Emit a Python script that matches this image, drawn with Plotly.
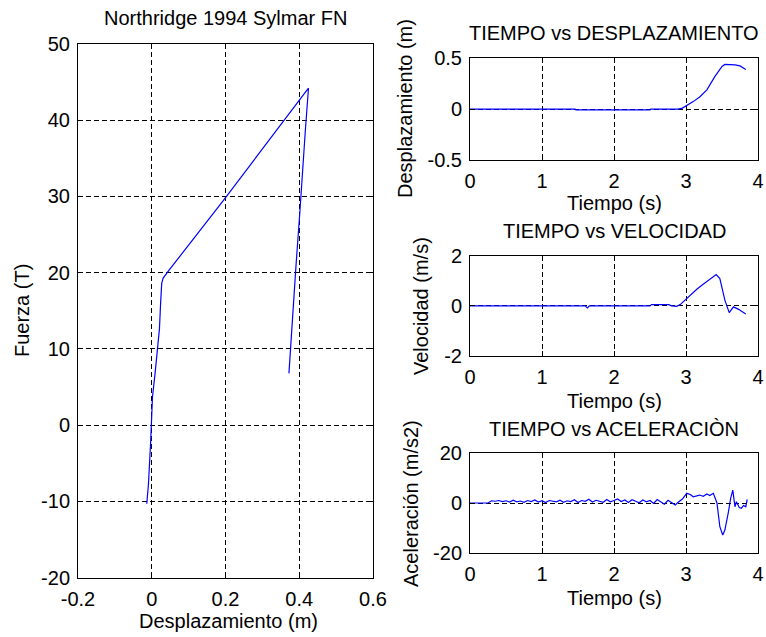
import plotly.graph_objects as go

# ---------------- data ----------------
# Hysteresis loop (left panel)
disp_h = [-0.0135, -0.009, -0.003, 0.002, 0.009, 0.015, 0.021, 0.024, 0.027, 0.031,
          0.048, 0.196, 0.425, 0.416, 0.409, 0.402, 0.391, 0.382, 0.376, 0.372]
force_h = [-10.3, -7.8, -2.2, 3.7, 6.8, 9.9, 12.7, 16.0, 18.6, 19.3,
           20.4, 29.6, 44.2, 38.3, 32.6, 28.2, 20.8, 14.7, 10.3, 6.8]

# Time vs displacement
t_d = [0, 1.46, 1.47, 2.50, 2.51, 2.89, 2.95, 3.01, 3.10, 3.19, 3.29, 3.40, 3.45,
       3.50, 3.54, 3.61, 3.68, 3.75, 3.83]
d = [0, 0, -0.008, -0.008, 0, 0, 0.01, 0.035, 0.074, 0.12, 0.19, 0.32, 0.37,
     0.42, 0.44, 0.44, 0.435, 0.425, 0.39]

# Time vs velocity
t_v = [0, 1.60, 1.63, 1.66, 2.50, 2.52, 2.76, 2.80, 2.87, 2.92, 2.96, 3.06, 3.15,
       3.22, 3.29, 3.42, 3.47, 3.54, 3.60, 3.66, 3.73, 3.83]
v = [0, 0, -0.08, 0, 0, 0.05, 0.05, 0, -0.02, 0.05, 0.16, 0.43, 0.66,
     0.82, 0.96, 1.25, 1.09, 0.23, -0.27, -0.04, -0.14, -0.33]

# Time vs acceleration
t_a = [0, 0.25, 0.30, 0.35, 0.40, 0.45, 0.50, 0.55, 0.60, 0.65, 0.70, 0.75, 0.80,
       0.85, 0.90, 0.95, 1.00, 1.05, 1.10, 1.15, 1.20, 1.25, 1.30, 1.35, 1.40,
       1.45, 1.50, 1.55, 1.60, 1.65, 1.70, 1.75, 1.80, 1.85, 1.90, 1.95, 2.00,
       2.05, 2.10, 2.15, 2.20, 2.25, 2.30, 2.35, 2.40, 2.45, 2.50, 2.55, 2.60,
       2.65, 2.70, 2.75, 2.80, 2.85, 2.90, 2.95, 3.01, 3.06, 3.10, 3.15, 3.19,
       3.24, 3.29, 3.33, 3.38, 3.43, 3.47, 3.51, 3.54, 3.59, 3.62, 3.65, 3.68,
       3.70, 3.74, 3.77, 3.80, 3.83, 3.85]
a = [0, 0, 0.9, 0.7, 1.0, 0.6, 0.9, 0.4, 1.1, 0.5, 0.8, 0.3, 1.0,
     0.6, 1.2, 0.4, 0.9, 0.2, 1.0, 0.7, 0.5, 1.1, 0.3, 0.9, 0.6,
     1.3, 0.2, 1.0, 0.7, 1.5, 0.4, 1.1, 0.8, 0.3, 1.4, 0.5, 1.0,
     1.6, 0.6, 1.2, 0.2, 1.3, 0.7, 0.1, 1.2, 0.5, 1.0, -0.2, 1.4,
     0.6, -0.5, 1.1, 0.3, -0.8, 0.5, 1.6, 3.9, 3.4, 2.5, 2.9, 3.2,
     2.7, 3.6, 3.0, 3.9, 0.0, -9.5, -12.9, -10.9, -3.5, 1.9, 5.2, -1.5,
     0.5, -1.8, -2.1, -1.0, -1.5, 1.5]

# Tick labels
x1_ticks = [-0.2, 0, 0.2, 0.4, 0.6]
x1_text = ["-0.2", "0", "0.2", "0.4", "0.6"]
y1_ticks = [-20, -10, 0, 10, 20, 30, 40, 50]
y1_text = ["-20", "-10", "0", "10", "20", "30", "40", "50"]
t_ticks = [0, 1, 2, 3, 4]
t_text = ["0", "1", "2", "3", "4"]
yd_ticks = [-0.5, 0, 0.5]
yd_text = ["-0.5", "0", "0.5"]
yv_ticks = [-2, 0, 2]
yv_text = ["-2", "0", "2"]
ya_ticks = [-20, 0, 20]
ya_text = ["-20", "0", "20"]

# ---------------- figure ----------------
W, H = 766, 637
FONT = "Liberation Sans, Arial, sans-serif"
FS = 20


def px(x):
    return x / W


def py(y):
    return 1 - y / H


def axis(domain, rng, tv, tt, anchor):
    return dict(domain=domain, range=rng, tickvals=tv, ticktext=tt,
                showgrid=True, gridcolor="black", griddash="5px,3px", gridwidth=1,
                showline=True, mirror="ticks", linecolor="black", linewidth=1,
                ticks="inside", ticklen=5, tickcolor="black", zeroline=False,
                tickfont=dict(family=FONT, size=FS, color="black"),
                anchor=anchor, fixedrange=True, ticklabelstandoff=3,
                automargin=False)


line = dict(color="#0000ff", width=1.2)
fig = go.Figure()
fig.add_trace(go.Scatter(x=disp_h, y=force_h, mode="lines", line=line, xaxis="x", yaxis="y"))
fig.add_trace(go.Scatter(x=t_d, y=d, mode="lines", line=line, xaxis="x2", yaxis="y2"))
fig.add_trace(go.Scatter(x=t_v, y=v, mode="lines", line=line, xaxis="x3", yaxis="y3"))
fig.add_trace(go.Scatter(x=t_a, y=a, mode="lines", line=line, xaxis="x4", yaxis="y4"))

L = [px(78), px(373)]
R = [px(470), px(758)]
fig.update_layout(
    template="none",
    width=W, height=H, margin=dict(l=0, r=0, t=0, b=0, autoexpand=False),
    paper_bgcolor="white", plot_bgcolor="white", showlegend=False,
    font=dict(family=FONT, size=FS, color="black"),
    xaxis=axis(L, [-0.2, 0.6], x1_ticks, x1_text, "y"),
    yaxis=axis([py(577.7), py(44)], [-20, 50], y1_ticks, y1_text, "x"),
    xaxis2=axis(R, [0, 4], t_ticks, t_text, "y2"),
    yaxis2=axis([py(160), py(58.3)], [-0.5, 0.5], yd_ticks, yd_text, "x2"),
    xaxis3=axis(R, [0, 4], t_ticks, t_text, "y3"),
    yaxis3=axis([py(356), py(255.7)], [-2, 2], yv_ticks, yv_text, "x3"),
    xaxis4=axis(R, [0, 4], t_ticks, t_text, "y4"),
    yaxis4=axis([py(552.7), py(453.3)], [-20, 20], ya_ticks, ya_text, "x4"),
)

labels = [
    ("Northridge 1994 Sylmar FN", 225, 18, 0),
    ("Fuerza (T)", 22, 311, -90),
    ("Desplazamiento (m)", 228, 621, 0),
    ("TIEMPO vs DESPLAZAMIENTO", 614, 33, 0),
    ("Desplazamiento (m)", 405, 109, -90),
    ("Tiempo (s)", 614, 203, 0),
    ("TIEMPO vs VELOCIDAD", 614, 231, 0),
    ("Velocidad (m/s)", 421, 306, -90),
    ("Tiempo (s)", 614, 401, 0),
    ("TIEMPO vs ACELERACIÒN", 614, 429, 0),
    ("Aceleración (m/s2)", 411, 503, -90),
    ("Tiempo (s)", 614, 598, 0),
]
for text, x, y, ang in labels:
    fig.add_annotation(text=text, x=px(x), y=py(y), xref="paper", yref="paper",
                       xanchor="center", yanchor="middle", showarrow=False,
                       textangle=ang, font=dict(family=FONT, size=FS, color="black"))

fig.write_html("out.html")
